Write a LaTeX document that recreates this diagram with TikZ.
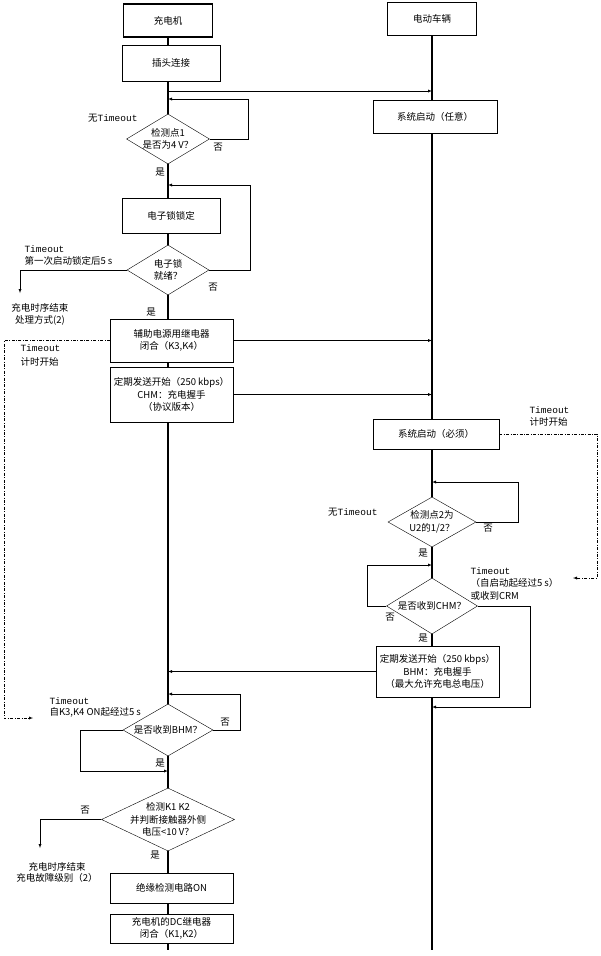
\documentclass[tikz,border=0pt]{standalone}
\usepackage{fontspec}
\setmainfont{Noto Sans CJK SC}
\setmonofont{Liberation Mono}
\usetikzlibrary{shapes.geometric,backgrounds}

\begin{document}
\begin{tikzpicture}[x=1pt,y=-1pt,
    every node/.style={font=\fontsize{9.5}{12.5}\selectfont,align=center},
    head/.style={draw,line width=1.3pt,fill=white,minimum width=89pt,minimum height=33pt},
    box/.style={draw,fill=white,inner sep=0pt},
    check/.style 2 args={draw,diamond,fill=white,aspect=2,inner sep=-8pt,minimum width=#1,minimum height=#2},
    lane/.style={line width=1.6pt},
    link/.style={-latex},
    timer/.style={dash pattern=on 3pt off 1.5pt on 0.8pt off 1.5pt,-latex}]
  \useasboundingbox (0,0) rectangle (600,956);

  \node[head] (charger) at (168,20.5) {充电机};
  \node[head] (vehicle) at (432,19) {电动车辆};

  \node[box,minimum width=98pt,minimum height=36pt] (plug) at (171,63) {插头连接};
  \node[box,minimum width=124pt,minimum height=33pt] (sys1) at (435,116.5) {系统启动（任意）};
  \node[check={83pt}{50pt}] (chk1) at (168,139) {检测点1\\是否为4 V？};
  \node[box,minimum width=98pt,minimum height=35pt] (lock) at (171,215.5) {电子锁锁定};
  \node[check={82pt}{50pt}] (ready) at (168,270) {电子锁\\就绪？};
  \node[box,minimum width=123pt,minimum height=43pt] (aux) at (171.5,340.5) {辅助电源用继电器\\闭合（K3,K4）};
  \node[box,minimum width=123pt,minimum height=55pt] (chm) at (171.5,394.5) {定期发送开始（250 kbps）\\CHM：充电握手\\（协议版本）};
  \node[box,minimum width=126pt,minimum height=30pt] (sys2) at (436,434) {系统启动（必须）};
  \node[check={88pt}{50pt}] (chk2) at (432,522) {检测点2为\\U2的1/2？};
  \node[check={91pt}{56pt}] (gotchm) at (432,606) {是否收到CHM？};
  \node[box,minimum width=123pt,minimum height=51pt] (bhm) at (437.5,671.5) {定期发送开始（250 kbps）\\BHM：充电握手\\（最大允许充电总电压）};
  \node[check={90pt}{52pt}] (gotbhm) at (168,730) {是否收到BHM？};
  \node[check={133pt}{63pt}] (chk3) at (168,819.5) {检测K1 K2\\并判断接触器外侧\\电压<10 V？};
  \node[box,minimum width=123pt,minimum height=30pt] (insul) at (171.5,888) {绝缘检测电路ON};
  \node[box,minimum width=123pt,minimum height=29pt] (dc) at (171.5,928.5) {充电机的DC继电器\\闭合（K1,K2）};

  \coordinate (lend) at (168,950);
  \coordinate (rend) at (432,950);
  \begin{scope}[on background layer]
    \draw[lane] (charger) -- (lend);
    \draw[lane] (vehicle) -- (rend);
  \end{scope}

  \coordinate (sync) at (168,91);
  \coordinate (join1) at (168,99);
  \coordinate (join2) at (168,185);
  \coordinate (stop1) at (20,293);
  \coordinate (join3) at (432,482);
  \coordinate (join4) at (432,565);
  \coordinate (join5) at (432,707);
  \coordinate (join6) at (168,694);
  \coordinate (join7) at (168,771);
  \coordinate (stop2) at (40,848);
  \coordinate (tbhm) at (33,718);
  \coordinate (tcrm) at (573,578);

  \draw[link] (sync) -- (sync -| vehicle);
  \draw[link] (chk1.east) -| (248,99) -- (join1);
  \draw[link] (ready.east) -| (250,185) -- (join2);
  \draw[link] (ready.west) -| (stop1);
  \draw[link] (aux.east) -- (aux.east -| vehicle);
  \draw[link] (chm.east) -- (chm.east -| vehicle);
  \draw[link] (chk2.east) -| (518,482) -- (join3);
  \draw[link] (gotchm.west) -| (367,565) -- (join4);
  \draw[link] (gotchm.east) -| (530,707) -- (join5);
  \draw[link] (bhm.west) -- (bhm.west -| charger);
  \draw[link] (gotbhm.east) -| (240,694) -- (join6);
  \draw[link] (gotbhm.west) -| (80,771) -- (join7);
  \draw[link] (chk3.west) -| (stop2);
  \draw[timer] (aux.west) -| (4,718) -- (tbhm);
  \draw[timer] (sys2.east) -| (597,578) -- (tcrm);

  \node[anchor=east] (nt1) at (141,118) {无\texttt{Timeout}};
  \node (no1) at (218,147) {否};
  \node (yes1) at (160,172) {是};
  \node (no2) at (213,287) {否};
  \node (yes2) at (151,312) {是};
  \node[anchor=west,align=left] (lockto) at (21,255.5) {\texttt{Timeout}\\第一次启动锁定后5 s};
  \node[font=\fontsize{9.5}{12}\selectfont] (end1) at (40,314) {充电时序结束\\处理方式(2)};
  \node[anchor=west,align=left,font=\fontsize{9.5}{14}\selectfont] (auxto) at (17,355) {\texttt{Timeout}\\计时开始};
  \node[anchor=west,align=left] (systo) at (526,416.5) {\texttt{Timeout}\\计时开始};
  \node[anchor=east] (nt2) at (381,512) {无\texttt{Timeout}};
  \node (no3) at (488,528) {否};
  \node (yes3) at (423,553) {是};
  \node (no4) at (390,617) {否};
  \node (yes4) at (423,638) {是};
  \node[anchor=north west,align=left] (crmto) at (467,564) {\texttt{Timeout}\\（自启动起经过5 s）\\或收到CRM};
  \node (no5) at (225,722) {否};
  \node[anchor=west,align=left,font=\fontsize{9.5}{11.5}\selectfont] (bhmto) at (46,707.5) {\texttt{Timeout}\\自K3,K4 ON起经过5 s};
  \node (yes5) at (160,763) {是};
  \node (no6) at (85,810) {否};
  \node (yes6) at (155,855) {是};
  \node[font=\fontsize{9.5}{11}\selectfont] (end2) at (57,872) {充电时序结束\\充电故障级别（2）};
\end{tikzpicture}
\end{document}
